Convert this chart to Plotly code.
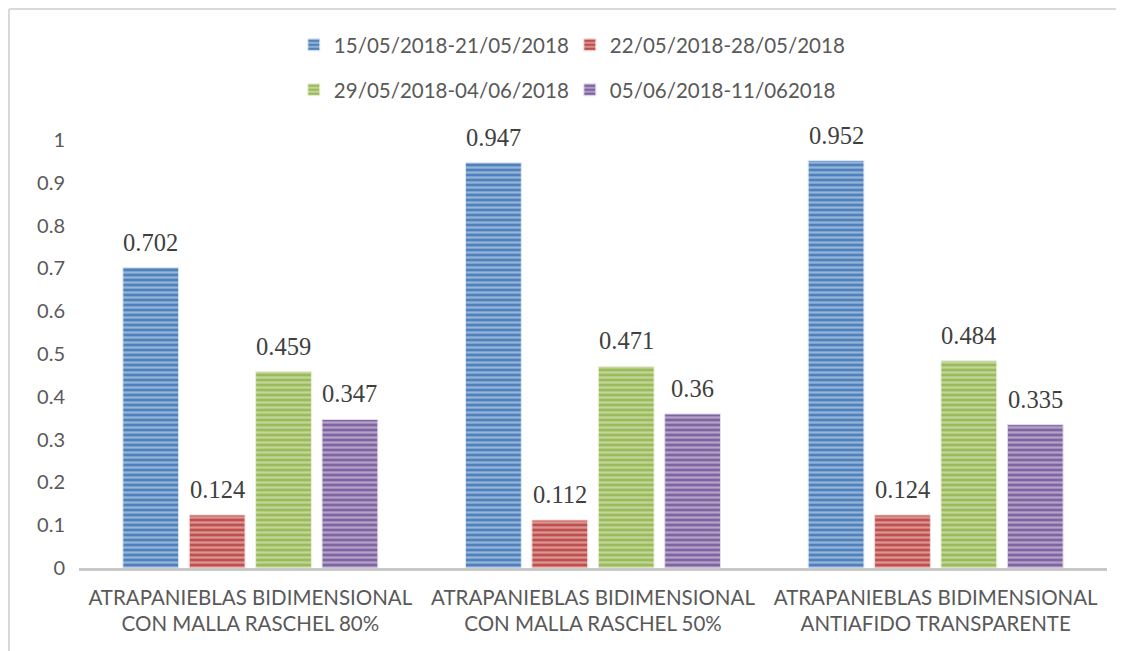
import plotly.graph_objects as go

categories = [
    'ATRAPANIEBLAS BIDIMENSIONAL<br>CON MALLA RASCHEL 80%',
    'ATRAPANIEBLAS BIDIMENSIONAL<br>CON MALLA RASCHEL 50%',
    'ATRAPANIEBLAS BIDIMENSIONAL<br>ANTIAFIDO TRANSPARENTE',
]
series_names = [
    '15/05/2018-21/05/2018',
    '22/05/2018-28/05/2018',
    '29/05/2018-04/06/2018',
    '05/06/2018-11/062018',
]
week1 = [0.702, 0.947, 0.952]
week2 = [0.124, 0.112, 0.124]
week3 = [0.459, 0.471, 0.484]
week4 = [0.347, 0.36, 0.335]

colors = ['#4f81bd', '#c0504d', '#9bbb59', '#8064a2']
lights = ['#dfe8f4', '#f3dcdb', '#eaf1de', '#e5dfee']
legends = ['legend', 'legend', 'legend2', 'legend2']
shifts = [-99.6, -33.2, 33.2, 99.6]

fig = go.Figure()
for name, vals, c, lc, lg, dx in zip(series_names, [week1, week2, week3, week4], colors, lights, legends, shifts):
    fig.add_trace(go.Bar(
        x=categories, y=vals, name=name, legend=lg,
        marker=dict(color=c, line=dict(color=lc, width=1),
                    pattern=dict(shape='-', fgcolor=lc, size=5, solidity=0.45)),
    ))
    for cat, v in zip(categories, vals):
        fig.add_annotation(x=cat, y=v, text=str(v), showarrow=False, xshift=dx, yshift=10,
                           yanchor='bottom',
                           font=dict(family='Liberation Serif', size=24.5, color='#404040'))

leg_common = dict(orientation='h', xanchor='left', x=0.209, yanchor='middle',
                  font=dict(family='Lato', size=20.5, color='#595959'),
                  bgcolor='rgba(0,0,0,0)', itemwidth=30, tracegroupgap=0,
                  entrywidth=231)

# chart-area frame: only the left and top edges are in view
frame = dict(color='#d9d9d9', width=2)

fig.update_layout(
    width=1124, height=651,
    margin=dict(l=71, r=25, t=132, b=91, autoexpand=False),
    paper_bgcolor='white', plot_bgcolor='white',
    barmode='group', bargap=0.225, bargroupgap=0.16,
    legend=dict(y=1.222, **leg_common),
    legend2=dict(y=1.117, **leg_common),
    font=dict(family='Lato', color='#595959'),
    xaxis=dict(showline=True, linecolor='#c8c8c8', linewidth=3, ticks='',
               ticklabelstandoff=9,
               tickfont=dict(family='Lato', size=20.5, color='#595959')),
    yaxis=dict(range=[0, 1], dtick=0.1, tickformat='.1~f', showgrid=False, zeroline=False,
               ticks='', ticklabelstandoff=13,
               tickfont=dict(family='Lato', size=20, color='#595959')),
    shapes=[
        dict(type='line', xref='paper', yref='paper', x0=-0.0681, x1=1.1, y0=1.306, y1=1.306,
             line=frame, layer='below'),
        dict(type='line', xref='paper', yref='paper', x0=-0.0681, x1=-0.0681, y0=-0.3, y1=1.306,
             line=frame, layer='below'),
    ],
)

fig.write_html('out.html')
